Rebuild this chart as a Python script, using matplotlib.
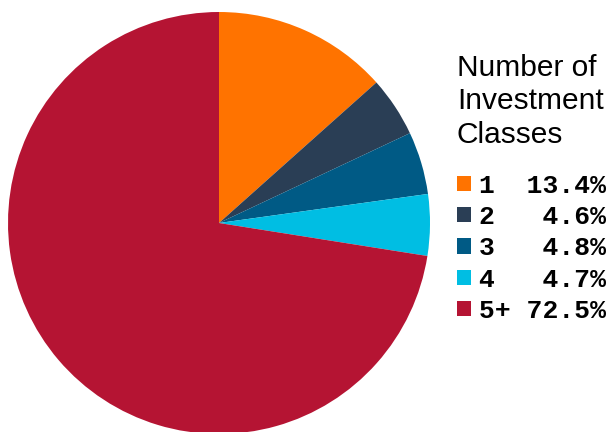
import matplotlib
matplotlib.use('Agg')
import matplotlib.pyplot as plt

# share of holders by number of investment classes held
classes = ['1', '2', '3', '4', '5+']
shares = [13.4, 4.6, 4.8, 4.7, 72.5]
colors = ['#ff7300', '#2a3e55', '#005a85', '#00bee3', '#b51433']

fig = plt.figure(figsize=(6.08, 4.32), dpi=100)

# square axes holding the pie, centre ~ (219, 223) px, radius ~211 px
W, H = 608, 432
cx, cy, r = 219, 432 - 223, 211
ax = fig.add_axes([(cx - r) / W, (cy - r) / H, 2 * r / W, 2 * r / H])
wedges, _ = ax.pie(shares, colors=colors, startangle=90, counterclock=False,
                   wedgeprops=dict(linewidth=0))
ax.set_xlim(-1, 1)
ax.set_ylim(-1, 1)
ax.set_aspect('equal')
ax.axis('off')

labels = [f"{c:<2} {v:4.1f}%" for c, v in zip(classes, shares)]
leg = fig.legend(wedges, labels, loc='upper left',
                 bbox_to_anchor=(457 / W, 1 - 54 / H),
                 frameon=False, borderpad=0, borderaxespad=0,
                 handlelength=0.52, handleheight=0.52, handletextpad=0.3,
                 labelspacing=0.28,
                 prop=dict(family='Liberation Mono', weight='bold', size=19),
                 title='Number of\nInvestment\nClasses',
                 title_fontproperties=dict(family='Liberation Sans', size=21.5),
                 alignment='left')
leg.get_title().set_linespacing(1.24)
leg._legend_box.sep = 18

fig.savefig('out.png', dpi=100, facecolor='white')
